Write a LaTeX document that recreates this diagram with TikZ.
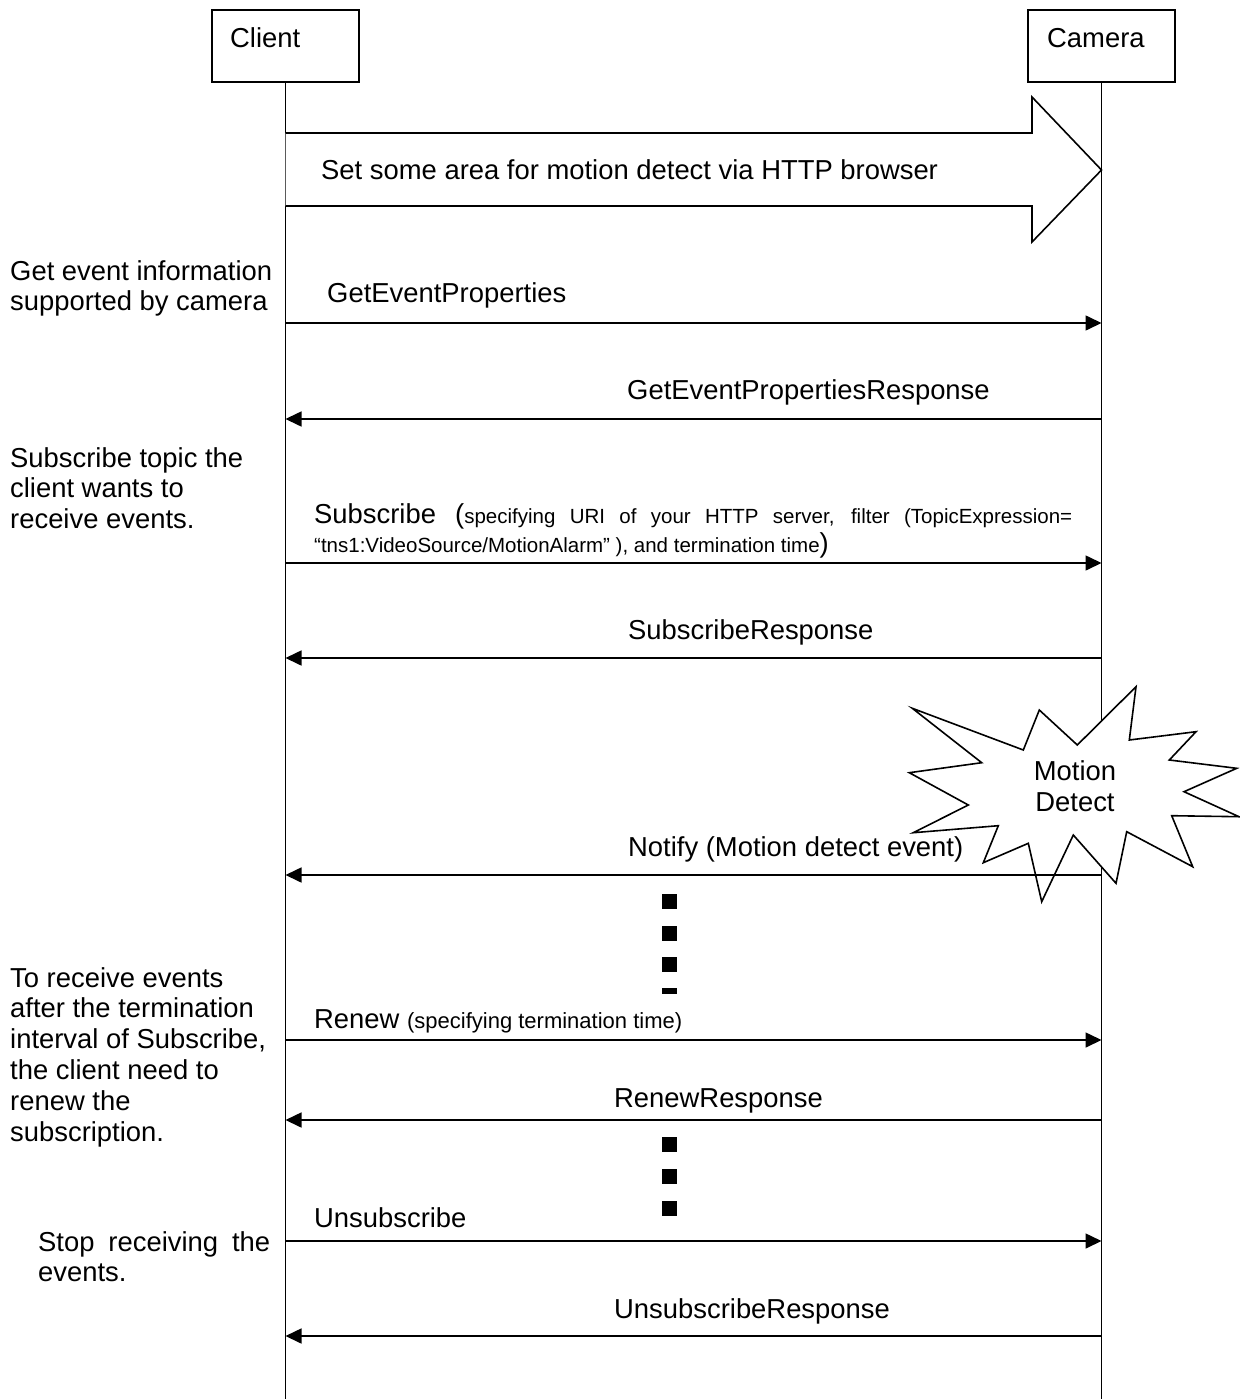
\documentclass[tikz,border=0pt]{standalone}
\usepackage{fontspec}
\setmainfont{Liberation Sans}
\usetikzlibrary{arrows.meta}
\newcommand{\smtxt}{\fontsize{20.5}{24}\selectfont}
\newcommand{\smrenew}{\fontsize{22}{26}\selectfont}
\begin{document}
\begin{tikzpicture}[x=1pt,y=-1pt,
  lw/.style={line width=1.6pt},
  actor/.style={draw, line width=1.6pt, minimum width=147pt, minimum height=72pt, inner sep=0pt},
  big/.style={font=\fontsize{27.4}{30.8}\selectfont, inner sep=0pt},
  lab/.style={big, anchor=base west},
  note/.style={big, align=left, anchor=base west},
  msg/.style={line width=1.6pt, -{Triangle[length=16pt,width=15pt]}},
  sq/.style={fill=black, draw=none, minimum size=15pt, inner sep=0pt}
]
\useasboundingbox (0,0) rectangle (1239,1399);

% actors
\node[actor] (client) at (285.5,46) {};
\node[actor] (camera) at (1101.5,46) {};
\node[lab] (clientT) at (230,48) {Client};
\node[lab] (cameraT) at (1047,48) {Camera};
\coordinate (clientEnd) at (285.5,1399);
\coordinate (cameraEnd) at (1101.5,1399);
\draw[lw] (client.south) -- (clientEnd);
\draw[lw] (camera.south) -- (cameraEnd);

% big arrow
\draw[lw, line join=miter, fill=white] (285.5,133) -- (1032,133) -- (1032,97) -- (1101.5,170) -- (1032,242) -- (1032,206) -- (285.5,206);
\node[lab] (setT) at (321,179) {Set some area for motion detect via HTTP browser};

% lifeline coordinates for messages
\foreach \n/\y in {1/323,2/419,3/563,4/658,5/875,6/1040,7/1120,8/1241,9/1336}{
  \coordinate (c\n) at (285.5,\y);
  \coordinate (k\n) at (1101.5,\y);
}

% starburst
\draw[lw, line join=miter, fill=white]
 (912.3,708.3) -- (1023.3,750) -- (1039.3,710) -- (1077.3,745) -- (1136,686.7) -- (1129.3,740)
 -- (1196,731.7) -- (1169.3,760) -- (1236.7,768.3) -- (1184,791.7) -- (1239,816.7) -- (1171.7,815.7)
 -- (1192.7,866.7) -- (1126.7,831.7) -- (1116,883.3) -- (1073.3,835) -- (1041.7,901.7) -- (1028.3,843.3)
 -- (983.3,862.7) -- (998.3,825.7) -- (913.3,832.7) -- (968.3,805) -- (909.3,772.7) -- (981.7,762.7) -- cycle;
\node[big, align=center] (motion) at (1075,786) {Motion\\Detect};

% messages
\draw[msg] (c1) -- (k1);
\node[lab] (m1) at (327,302) {GetEventProperties};
\draw[msg] (k2) -- (c2);
\node[lab] (m2) at (627,399) {GetEventPropertiesResponse};
\draw[msg] (c3) -- (k3);
\node[note] (m3) at (314,552) {\makebox[758pt][s]{Subscribe (\smtxt specifying URI of your HTTP server, filter (TopicExpression=}\\[-2pt]{\smtxt “tns1:VideoSource/MotionAlarm” ), and termination time})};
\draw[msg] (k4) -- (c4);
\node[lab] (m4) at (628,639) {SubscribeResponse};
\draw[msg] (k5) -- (c5);
\node[lab] (m5) at (628,856) {Notify (Motion detect event)};
\draw[msg] (c6) -- (k6);
\node[lab] (m6) at (314,1028) {Renew {\smrenew (specifying termination time)}};
\draw[msg] (k7) -- (c7);
\node[lab] (m7) at (614,1107) {RenewResponse};
\draw[msg] (c8) -- (k8);
\node[lab] (m8) at (314,1227) {Unsubscribe};
\draw[msg] (k9) -- (c9);
\node[lab] (m9) at (614,1318) {UnsubscribeResponse};

% continuation marks
\node[sq] (d1) at (669.5,901) {};
\node[sq] (d2) at (669.5,933) {};
\node[sq] (d3) at (669.5,964.5) {};
\node[fill=black, minimum width=15pt, minimum height=6pt, inner sep=0pt] (d4) at (669.5,991) {};
\node[sq] (e1) at (669.5,1144) {};
\node[sq] (e2) at (669.5,1176) {};
\node[sq] (e3) at (669.5,1208) {};

% left notes (anchored at the baseline of their last line)
\node[note] (n1) at (10,310.8) {Get event information\\supported by camera};
\node[note] (n2) at (10,528.6) {Subscribe topic the\\client wants to\\receive events.};
\node[note] (n3) at (10,1141) {To receive events\\after the termination\\interval of Subscribe,\\the client need to\\renew the\\subscription.};
\node[note] (n4) at (38,1281.8) {\makebox[232pt][s]{Stop receiving the}\\events.};
\end{tikzpicture}
\end{document}
